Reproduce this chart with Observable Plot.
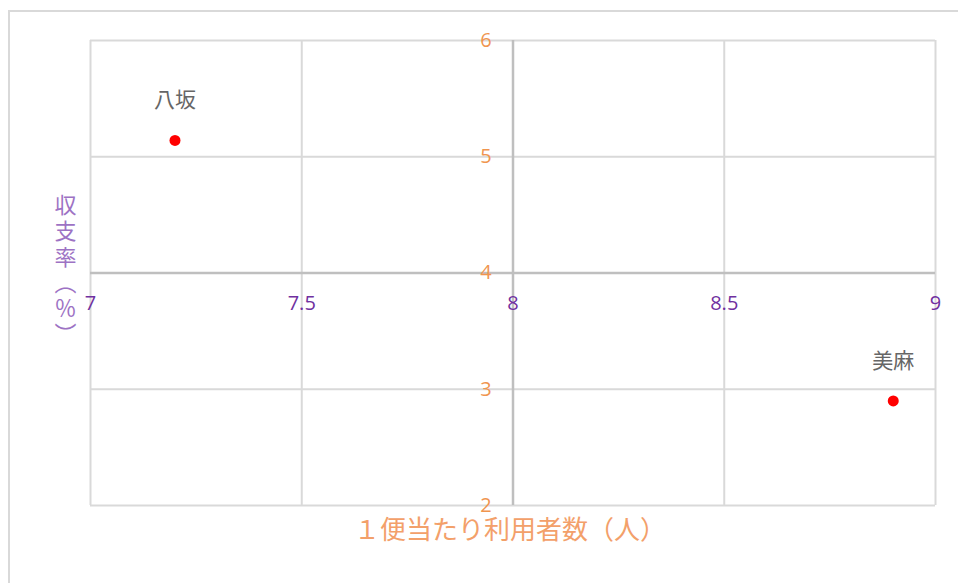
<!DOCTYPE html>
<html>
<head>
<meta charset="utf-8">
<script src="https://cdn.jsdelivr.net/npm/d3@7"></script>
<script src="https://cdn.jsdelivr.net/npm/@observablehq/plot@0.6"></script>
<style>
  html, body { margin: 0; padding: 0; background: #fff; overflow: hidden; }
  #wrap { position: relative; width: 958px; height: 583px; }
  #border { position: absolute; left: 8px; top: 10px; width: 980px; height: 600px; border: 2px solid #d9d9d9; box-sizing: border-box; }
  #chart { position: absolute; left: 0; top: 0; }
</style>
</head>
<body>
<div id="wrap"><div id="border"></div><div id="chart"></div></div>
<script>
const names = ["八坂", "美麻"];
const usersPerTrip = [7.2, 8.9];
const recoveryRate = [5.14, 2.9];
const xTicks = [7, 7.5, 8, 8.5, 9];
const yTicks = [2, 3, 4, 5, 6];
const xTitle = "１便当たり利用者数（人）";
const yTitle = "収\n支\n率\n︵\n％\n︶";

const data = names.map((n, i) => ({name: n, x: usersPerTrip[i], y: recoveryRate[i]}));

const numFont = "'Open Sans', 'Noto Sans', sans-serif";
const jpFont = "'Noto Sans CJK JP', sans-serif";

const chart = Plot.plot({
  width: 958,
  height: 583,
  marginLeft: 90,
  marginRight: 23,
  marginTop: 40,
  marginBottom: 78,
  x: {domain: [7, 9], axis: null},
  y: {domain: [2, 6], axis: null},
  marks: [
    Plot.ruleX(xTicks, {x: d => d, stroke: "#d9d9d9", strokeWidth: 2}),
    Plot.ruleY(yTicks, {y: d => d, stroke: "#d9d9d9", strokeWidth: 2}),
    Plot.ruleX([8], {stroke: "#bfbfbf", strokeWidth: 2.5}),
    Plot.ruleY([4], {stroke: "#bfbfbf", strokeWidth: 2.5}),
    Plot.text(xTicks, {x: d => d, y: 4, dy: 31, text: d => String(d), fill: "#7030a0", fontSize: 20, fontFamily: numFont}),
    Plot.text(yTicks, {x: 8, y: d => d, dx: -27, text: d => String(d), fill: "#f0954f", fontSize: 20, fontFamily: numFont}),
    Plot.dot(data, {x: "x", y: "y", r: 5.5, fill: "red", stroke: "none"}),
    Plot.text(data, {x: "x", y: "y", dy: -40, text: "name", fill: "#666666", fontSize: 21, fontFamily: jpFont}),
    Plot.text([xTitle], {frameAnchor: "bottom", dy: 33, dx: -3, text: d => d, fill: "#f3a06a", fontSize: 26, fontFamily: jpFont}),
    Plot.text([yTitle], {frameAnchor: "left", textAnchor: "middle", dx: -25, dy: -3.5, text: d => d, fill: "#9d72c4", fontSize: 22, lineHeight: 1.17, fontFamily: jpFont})
  ]
});
document.getElementById("chart").appendChild(chart);
</script>
</body>
</html>
